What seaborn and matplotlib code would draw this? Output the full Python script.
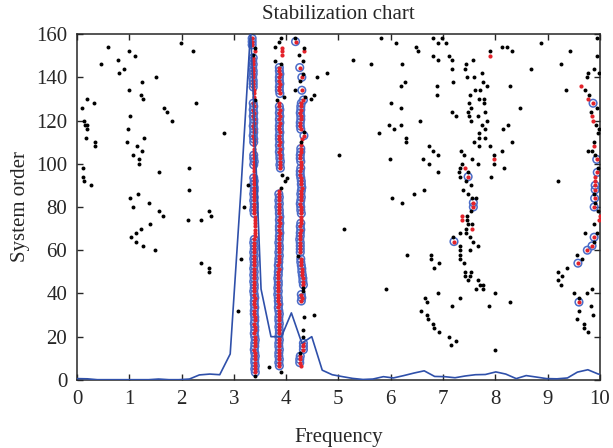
import numpy as np
import pandas as pd
import matplotlib
matplotlib.use("Agg")
import matplotlib.pyplot as plt
import seaborn as sns

# spectrum (blue line)
spec_freq = [0.00, 0.20, 0.39, 0.59, 0.78, 0.98, 1.17, 1.37, 1.56, 1.76,
             1.95, 2.15, 2.34, 2.54, 2.73, 2.93, 3.13, 3.32, 3.52, 3.71,
             3.91, 4.10, 4.30, 4.49, 4.69, 4.88, 5.08, 5.27, 5.47, 5.66,
             5.86, 6.05, 6.25, 6.45, 6.64, 6.84, 7.03, 7.23, 7.42, 7.62,
             7.81, 8.01, 8.20, 8.40, 8.59, 8.79, 8.98, 9.18, 9.38, 9.57,
             9.77, 9.96, 10.16]
spec_amp = [0.6, 0.5, 0.1, 0.1, 0.1, 0.1, 0.1, 0.1, 0.4, 0.1,
            0.1, 0.4, 2.3, 2.7, 2.4, 12.0, 86.0, 162.0, 42.0, 20.0,
            20.0, 31.0, 17.0, 20.0, 4.5, 2.4, 1.5, 0.7, 0.2, 0.4,
            1.5, 0.9, 2.0, 3.2, 4.2, 1.6, 1.5, 1.0, 1.8, 2.4,
            2.5, 3.7, 2.7, 0.6, 2.0, 1.3, 0.6, 0.5, 0.9, 3.6,
            4.7, 2.8, 1.5]

# system orders used by the three main pole columns
orders = [2, 3.5, 5, 6.5, 8, 9.5, 11, 12.5, 14, 15.5,
          17, 18.5, 20, 21.5, 23, 24.5, 26, 27.5, 29, 30.5,
          32, 33.5, 35, 36.5, 38, 39.5, 41, 42.5, 44, 45.5,
          47, 48.5, 50, 51.5, 53, 54.5, 56, 57.5, 59, 60.5,
          62, 63.5, 65, 66.5, 68, 69.5, 71, 72.5, 74, 75.5,
          77, 78.5, 80, 81.5, 83, 84.5, 86, 87.5, 89, 90.5,
          92, 93.5, 95, 96.5, 98, 99.5, 101, 102.5, 104, 105.5,
          107, 108.5, 110, 111.5, 113, 114.5, 116, 117.5, 119, 120.5,
          122, 123.5, 125, 126.5, 128, 129.5, 131, 132.5, 134, 135.5,
          137, 138.5, 140, 141.5, 143, 144.5, 146, 147.5, 149, 150.5,
          152, 153.5, 155, 156.5, 158]

nan = np.nan
# S = stable (circle + red), F = frequency stable (red), N = new pole (black), - = none
col1_freq = [3.41, 3.41, 3.40, 3.41, 3.40, 3.40, 3.41, 3.40, 3.39, 3.40,
             3.40, 3.41, 3.40, 3.39, 3.40, 3.40, 3.39, 3.40, 3.40, 3.39,
             3.39, 3.40, 3.39, 3.39, 3.40, 3.39, 3.38, 3.39, 3.39, 3.38,
             3.39, 3.38, 3.39, 3.38, 3.39, 3.39, 3.38, 3.39, 3.38, 3.39,
             3.39, 3.38, 3.39, 3.40, 3.40, 3.40, 3.40, 3.40, 3.40, 3.40,
             3.39, 3.38, 3.39, 3.39, 3.38, 3.39, 3.38, 3.39, 3.39, 3.38,
             3.39, 3.38, 3.39, 3.39, 3.39, 3.38, 3.39, 3.38, 3.38, 3.39,
             3.39, 3.39, 3.38, 3.38, 3.37, 3.38, 3.38, 3.37, 3.38, 3.38,
             3.37, 3.38, 3.37, 3.38, 3.37, 3.41, 3.39, 3.39, 3.39, 3.37,
             3.37, 3.37, 3.36, 3.37, 3.37, 3.36, 3.37, 3.36, 3.37, 3.36,
             3.41, 3.41, 3.35, 3.35, 3.35]
col1_kind = ("NSSSSSSSSS" "SSSSSSSSSS" "SSSSSSSSSS" "SSSSSSSSSS" "SSSFFFFFFF"
             "SSSSSSSSSS" "SSFFFSSSSF" "FFSSSSSSSS" "SSSSSNFFFS" "SSSSSSSSSN"
             "FNSSS")

col2_freq = [nan, 3.90, nan, 3.87, 3.86, 3.87, 3.86, 3.86, 3.87, 3.86,
             3.86, 3.87, 3.86, 3.87, 3.87, 3.86, 3.87, 3.86, 3.86, 3.87,
             3.86, 3.85, 3.86, 3.85, 3.85, 3.84, 3.85, 3.84, 3.85, 3.85,
             3.84, 3.85, 3.85, 3.86, 3.85, 3.86, 3.86, 3.87, 3.86, 3.87,
             3.87, 3.86, 3.87, 3.87, 3.88, 3.87, 3.87, 3.88, 3.87, 3.88,
             3.87, 3.87, 3.86, 3.87, 3.86, 3.87, 3.86, 3.87, 3.90, nan,
             3.98, 4.01, 3.93, nan, 3.89, 3.88, 3.89, 3.88, 3.88, 3.87,
             3.88, 3.87, 3.88, 3.87, 3.87, 3.88, 3.87, 3.87, 3.88, 3.87,
             3.88, 3.87, 3.88, 3.87, 3.87, 3.82, 3.95, 3.88, 3.87, 3.87,
             3.88, 3.87, 3.87, 3.88, 3.87, 3.87, 3.90, 3.78, nan, 3.93,
             3.93, 3.93, nan, 3.87, 3.91]
col2_kind = ("-N-SSSSSSS" "SSSSSSSSSS" "SSSSSSSSSS" "SSSSSSSSSS" "SSSSSSSSSS"
             "SSSSSSSFN-" "NNN-SSSSSS" "SSSSSSSSSS" "SSSSFNNSSS" "SSSSSSNN-F"
             "FF-NN")

col3_freq = [nan, nan, nan, 4.29, 4.26, 4.26, 4.27, 4.27, 4.33, 4.33,
             4.33, nan, 4.32, nan, 4.33, nan, nan, nan, 4.35, nan,
             nan, nan, nan, 4.29, 4.30, 4.29, 4.33, 4.33, 4.33, 4.32,
             4.32, 4.31, 4.30, 4.30, 4.29, 4.28, 4.28, 4.22, 4.27, 4.27,
             4.27, 4.27, 4.26, 4.27, 4.27, 4.28, 4.27, 4.28, 4.28, 4.28,
             4.29, 4.28, 4.28, 4.27, 4.28, 4.29, 4.28, 4.29, 4.30, 4.29,
             4.29, 4.28, 4.27, 4.27, 4.28, 4.28, 4.28, 4.27, 4.27, 4.28,
             4.28, 4.29, 4.29, 4.30, 4.34, 4.35, 4.28, 4.27, 4.27, 4.28,
             4.28, 4.27, 4.28, 4.28, 4.29, 4.33, 4.36, nan, 4.30, nan,
             nan, 4.27, 4.30, 4.32, nan, 4.26, nan, 4.32, nan, 4.25,
             4.35, 4.35, nan, 4.18, 4.16]
col3_kind = ("---FSSSNSS" "S-N-N---N-" "---SSSNNSS" "SSSSSSSNSS" "SSSSSSSSFF"
             "SSSSSSSSSS" "SSSSSFSSSS" "SFNFSNSSSS" "SSSSSSN-S-" "-NSN-S-N-N"
             "FN-SN")

# scattered new poles (black dots)
new_freq = [0.10, 0.20, 0.32, 0.13, 0.15, 0.20, 0.20, 0.17, 0.34, 0.34, 0.11, 0.11, 0.14, 0.27,
            0.45, 0.59, 0.78, 0.81, 0.90, 0.99, 1.11, 0.99, 1.24, 1.22, 1.27, 1.52, 1.66, 1.73,
            1.82, 1.02, 0.97, 1.28, 0.96, 1.15, 1.25, 1.08, 1.19, 1.19, 1.56, 2.14, 2.14, 1.02,
            1.16, 1.99, 2.22, 2.28, 2.82,
            1.07, 1.38, 1.56, 1.65, 1.04, 1.13, 1.23, 1.40, 1.13, 1.26, 1.50, 2.12, 2.38, 2.53,
            2.56, 2.38, 2.53, 2.53,
            3.27, 3.19, 3.14, 3.07, 3.68, 3.78, 4.16, 4.48, 4.54, 4.59, 4.79, 5.01, 5.10, 4.54,
            5.81, 6.11, 6.49, 6.53, 6.80, 6.90, 6.98, 7.06, 5.27, 5.63, 6.21, 6.80, 6.90, 7.12,
            7.17, 7.17, 7.44, 7.42, 7.57, 7.89, 8.13, 8.23, 8.32, 7.75, 7.45, 7.59, 7.76, 7.85,
            7.20, 6.28, 6.20, 6.88, 6.88, 7.61, 7.71, 7.51, 7.69, 7.79, 7.50, 7.79, 7.53, 7.47,
            7.81, 7.50, 7.67, 7.53, 7.85, 7.74, 7.81, 7.68, 7.68, 7.80, 7.59, 7.69, 7.89, 7.34,
            7.41, 7.56, 7.66, 7.37, 7.33, 7.30, 7.47, 7.33, 7.44, 7.53, 7.39, 7.48, 7.55, 7.63,
            8.15, 8.25, 8.32, 8.28, 8.48, 7.98, 7.97, 8.16, 7.91, 8.13, 8.69, 8.88, 9.43, 9.26,
            9.36, 9.20, 6.74, 6.81, 6.90, 6.74, 6.90, 6.62, 6.56, 6.19, 6.00, 6.19, 5.96, 6.07,
            5.78, 6.30, 6.30, 5.98, 7.17, 7.25, 6.02, 6.45, 6.64,
            6.21, 7.46, 7.46, 7.53, 7.48, 7.56, 7.44, 7.33, 7.44, 7.52, 7.20, 7.57, 7.33, 7.67,
            7.33, 7.52, 7.33, 7.33, 7.41, 7.43, 7.53, 7.43, 7.51, 7.47, 7.67, 7.70, 7.77, 7.64,
            7.77, 6.31, 6.77, 6.77, 6.93, 6.82, 5.91, 6.65, 6.70, 6.90, 6.57, 6.69, 6.72, 6.80,
            6.83, 6.93, 7.12, 7.24, 7.16, 7.18, 7.32, 7.87, 8.00, 8.29, 8.00,
            9.19, 9.27, 9.19, 9.25, 9.37, 9.56, 9.65, 9.72, 9.94, 9.89, 9.88, 9.97, 9.90, 9.50,
            9.60, 9.60, 9.57, 9.75, 9.84, 9.83, 9.86, 9.69, 9.70, 9.77,
            9.95, 9.95, 9.89, 9.77, 9.99, 9.76, 9.72, 9.80, 9.94, 9.83, 9.92, 9.99, 9.96, 9.88,
            9.77, 9.85, 9.90, 9.96, 9.89]
new_order = [126, 130, 128, 120, 118, 117.8, 116, 112, 110, 108, 98, 94, 92, 90,
             146, 154, 148, 142, 144, 152, 150, 134, 138, 132, 130, 140, 126, 124,
             120, 122, 116, 112, 110, 108, 106, 104, 102, 100, 96, 98, 88, 84,
             86, 156, 152, 128, 114,
             80, 82, 78, 76, 66, 68, 70, 72, 64, 62, 60, 74, 74, 78,
             76, 54, 52, 50,
             90, 80, 56, 32, 6, 154, 134, 130, 132, 140, 142, 104, 70, 30,
             158, 156, 154, 152, 158, 156, 158, 156, 148, 146, 146, 150, 148, 150,
             148, 144, 146, 144, 148, 152, 154, 154, 152, 142, 140, 140, 138, 136,
             138, 138, 136, 136, 132, 134, 134, 132, 130, 130, 128, 128, 126, 124,
             124, 122, 122, 120, 120, 118, 116, 114, 112, 112, 110, 108, 108, 106,
             104, 102, 100, 100, 98, 96, 96, 94, 92, 90, 88, 86, 84, 84,
             116, 118, 110, 136, 126, 104, 100, 98, 94, 106, 144, 156, 152, 146,
             134, 92, 108, 106, 104, 100, 96, 102, 120, 126, 128, 118, 118, 116,
             114, 112, 110, 102, 124, 122, 84, 86, 88,
             82, 76, 74, 78, 72, 72, 70, 68, 68, 66, 66, 64, 62, 62,
             60, 60, 58, 56, 54, 50, 50, 48, 48, 46, 46, 44, 44, 42,
             42, 58, 58, 56, 54, 52, 42, 38, 36, 40, 32, 30, 28, 26,
             24, 22, 20, 18, 16, 34, 38, 34, 40, 36, 14,
             50, 48, 46, 44, 52, 58, 56, 68, 68, 72, 64, 78, 82, 40,
             38, 32, 28, 40, 42, 34, 30, 26, 24, 22,
             158, 150, 144, 142, 142, 140, 134, 132, 126, 124, 118, 116, 114, 110,
             106, 106, 104, 98, 86]

# scattered frequency-stable poles (red dots only)
red_freq = [7.89, 7.42, 7.98, 7.37, 7.37, 7.56, 9.63, 9.78, 9.85, 9.86, 9.88, 9.91, 9.90,
            9.98, 10.00]
red_order = [150, 98, 102, 76, 74, 70, 136, 130, 122, 120, 108, 94, 92, 74, 76]

# scattered stable poles (blue circle + red dot)
stab_freq = [7.48, 7.58, 7.58, 7.21, 9.58, 9.76, 9.85, 9.89, 9.89, 9.60, 9.87, 9.94, 9.95,
             9.91, 9.91, 9.90]
stab_order = [94, 82, 80, 64, 54, 60, 62, 66, 80, 36, 128, 102, 96, 90, 88, 84]

# collect all poles in one table
rows = []
for freqs, kinds in [(col1_freq, col1_kind), (col2_freq, col2_kind), (col3_freq, col3_kind)]:
    for o, f, k in zip(orders, freqs, kinds):
        if k != "-":
            rows.append((f, o, k))
rows += [(f, o, "N") for f, o in zip(new_freq, new_order)]
rows += [(f, o, "F") for f, o in zip(red_freq, red_order)]
rows += [(f, o, "S") for f, o in zip(stab_freq, stab_order)]
poles = pd.DataFrame(rows, columns=["Frequency", "System order", "kind"])

sns.set_style("ticks")
plt.rcParams["font.family"] = ["Liberation Serif", "DejaVu Serif"]
plt.rcParams["font.size"] = 15

fig = plt.figure(figsize=(6.13, 4.48), dpi=100)
ax = fig.add_axes([0.1256, 0.152, 0.853, 0.772])

blue = "#4a6cc8"
sns.scatterplot(data=poles[poles["kind"] == "S"], x="Frequency", y="System order",
                marker="o", s=30, facecolors="none", edgecolor=blue, linewidth=1.1,
                ax=ax, zorder=2)
sns.scatterplot(data=poles[poles["kind"].isin(["S", "F"])], x="Frequency", y="System order",
                marker="o", s=9, color="#e4232b", linewidth=0, ax=ax, zorder=3)
sns.scatterplot(data=poles[poles["kind"] == "N"], x="Frequency", y="System order",
                marker="o", s=8, color="black", linewidth=0, ax=ax, zorder=3)
sns.lineplot(x=spec_freq, y=spec_amp, color="#2f50aa", linewidth=1.2, ax=ax, zorder=4)

ax.set_xlim(0, 10)
ax.set_ylim(0, 160)
ax.set_xticks(range(0, 11))
ax.set_yticks(range(0, 161, 20))
ax.tick_params(direction="in", top=True, right=True, length=4, width=1, pad=7, labelsize=15)
for sp in ax.spines.values():
    sp.set_linewidth(1.1)
    sp.set_visible(True)
ax.set_title("Stabilization chart", fontsize=15, pad=11)
ax.set_xlabel("Frequency", fontsize=15, labelpad=14)
ax.set_ylabel("System order", fontsize=15, labelpad=4)

fig.savefig("out.png", dpi=100)
